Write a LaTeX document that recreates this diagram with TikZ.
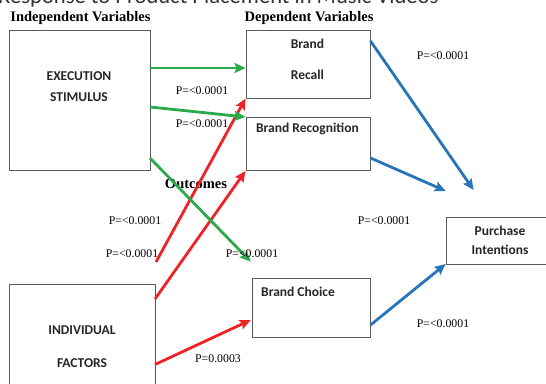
\documentclass[tikz,border=0pt]{standalone}
\usepackage{fontspec}
\setmainfont{Liberation Serif}
\newfontfamily\calfont{Carlito}
\usetikzlibrary{arrows.meta,calc}
\definecolor{cgreen}{RGB}{43,170,75}
\definecolor{cred}{RGB}{237,35,38}
\definecolor{cblue}{RGB}{38,117,187}
\definecolor{cbox}{RGB}{90,90,90}
\tikzset{
  box/.style={draw=cbox, line width=0.9pt, inner sep=0pt},
  boxtext/.style={font=\calfont\bfseries\fontsize{13.5}{15}\selectfont, text=black!85, inner sep=0pt},
  head/.style={font=\bfseries\fontsize{14.5}{16}\selectfont, inner sep=0pt},
  pval/.style={font=\fontsize{11.8}{13}\selectfont, inner sep=0pt},
  conn/.style={line width=2.8pt, -{Stealth[length=11pt,width=10pt,inset=2pt]}},
}
\begin{document}
\begin{tikzpicture}[x=1pt,y=-1pt]
\useasboundingbox (0,0) rectangle (546,383);
\begin{scope}
\clip (0,0) rectangle (546,383);
% title (cut off at top, as in the reference)
\node[anchor=base west, inner sep=0pt, font=\calfont\fontsize{22.6}{24}\selectfont, text=black!80] (title) at (-2,3.5) {Response to Product Placement in Music Videos};
% boxes
\node[box, minimum width=140.6pt, minimum height=139.4pt] (exec) at (79.7,100.3) {};
\node[box, minimum width=124pt, minimum height=67.9pt] (recall) at (308.5,64.55) {};
\node[box, minimum width=124pt, minimum height=52.3pt] (recog) at (308.5,143.85) {};
\node[box, minimum width=118.1pt, minimum height=59.3pt] (choice) at (311.45,307.65) {};
\node[box, minimum width=113.3pt, minimum height=47pt] (purch) at (503.35,240.5) {};
\node[box, minimum width=145.6pt, minimum height=130pt] (indiv) at (82.2,349.4) {};
\end{scope}
% headings
\node[head] (indep) at (80.5,18) {Independent Variables};
\node[head] (dep) at (309,18) {Dependent Variables};
\node[head] (outc) at (196,184) {Outcomes};
% box texts
\node[boxtext] (t1) at (79,76) {EXECUTION};
\node[boxtext] (t2) at (79,97) {STIMULUS};
\node[boxtext] (t3) at (307.5,43.5) {Brand};
\node[boxtext] (t4) at (307.5,75) {Recall};
\node[boxtext] (t5) at (307.5,128.5) {Brand Recognition};
\node[boxtext, anchor=west] (t6) at (261,292) {Brand Choice};
\node[boxtext] (t7) at (500,231) {Purchase};
\node[boxtext] (t8) at (500,249.4) {Intentions};
\node[boxtext] (t9) at (82,330) {INDIVIDUAL};
\node[boxtext] (t10) at (82,362.7) {FACTORS};
% connector end points
\coordinate (g1s) at (150,68);   \coordinate (g1e) at (245.5,68);
\coordinate (g2s) at (150,107);  \coordinate (g2e) at (245.5,117);
\coordinate (g3s) at (150,158);  \coordinate (g3e) at (250.7,261.6);
\coordinate (rAs) at (156,262);  \coordinate (rAe) at (245.5,98.5);
\coordinate (rBs) at (155,299);  \coordinate (rBe) at (245.5,171);
\coordinate (rCs) at (155,364.5);\coordinate (rCe) at (250.7,320);
\coordinate (b1s) at (370.5,41); \coordinate (b1e) at (473.6,190);
\coordinate (b2s) at (370.5,158);\coordinate (b2e) at (445.7,191);
\coordinate (b3s) at (370.5,325);\coordinate (b3e) at (445.7,264);
% red
\draw[conn, cred] (rAs) -- (rAe);
\draw[conn, cred] (rBs) -- (rBe);
\draw[conn, cred] (rCs) -- (rCe);
% green
\draw[conn, cgreen] (g1s) -- (g1e);
\draw[conn, cgreen] (g2s) -- (g2e);
\draw[conn, cgreen] (g3s) -- (g3e);
% blue
\draw[conn, cblue] (b1s) -- (b1e);
\draw[conn, cblue] (b2s) -- (b2e);
\draw[conn, cblue] (b3s) -- (b3e);
% p values
\node[pval] (p1) at (202,91) {P=<0.0001};
\node[pval] (p2) at (202,124) {P=<0.0001};
\node[pval] (p3) at (443,56) {P=<0.0001};
\node[pval] (p4) at (135,220.5) {P=<0.0001};
\node[pval] (p5) at (384,220.5) {P=<0.0001};
\node[pval] (p6) at (132,254) {P=<0.0001};
\node[pval] (p7) at (252,254) {P=<0.0001};
\node[pval] (p8) at (218,358.5) {P=0.0003};
\node[pval] (p9) at (443,323.7) {P=<0.0001};
\end{tikzpicture}
\end{document}
